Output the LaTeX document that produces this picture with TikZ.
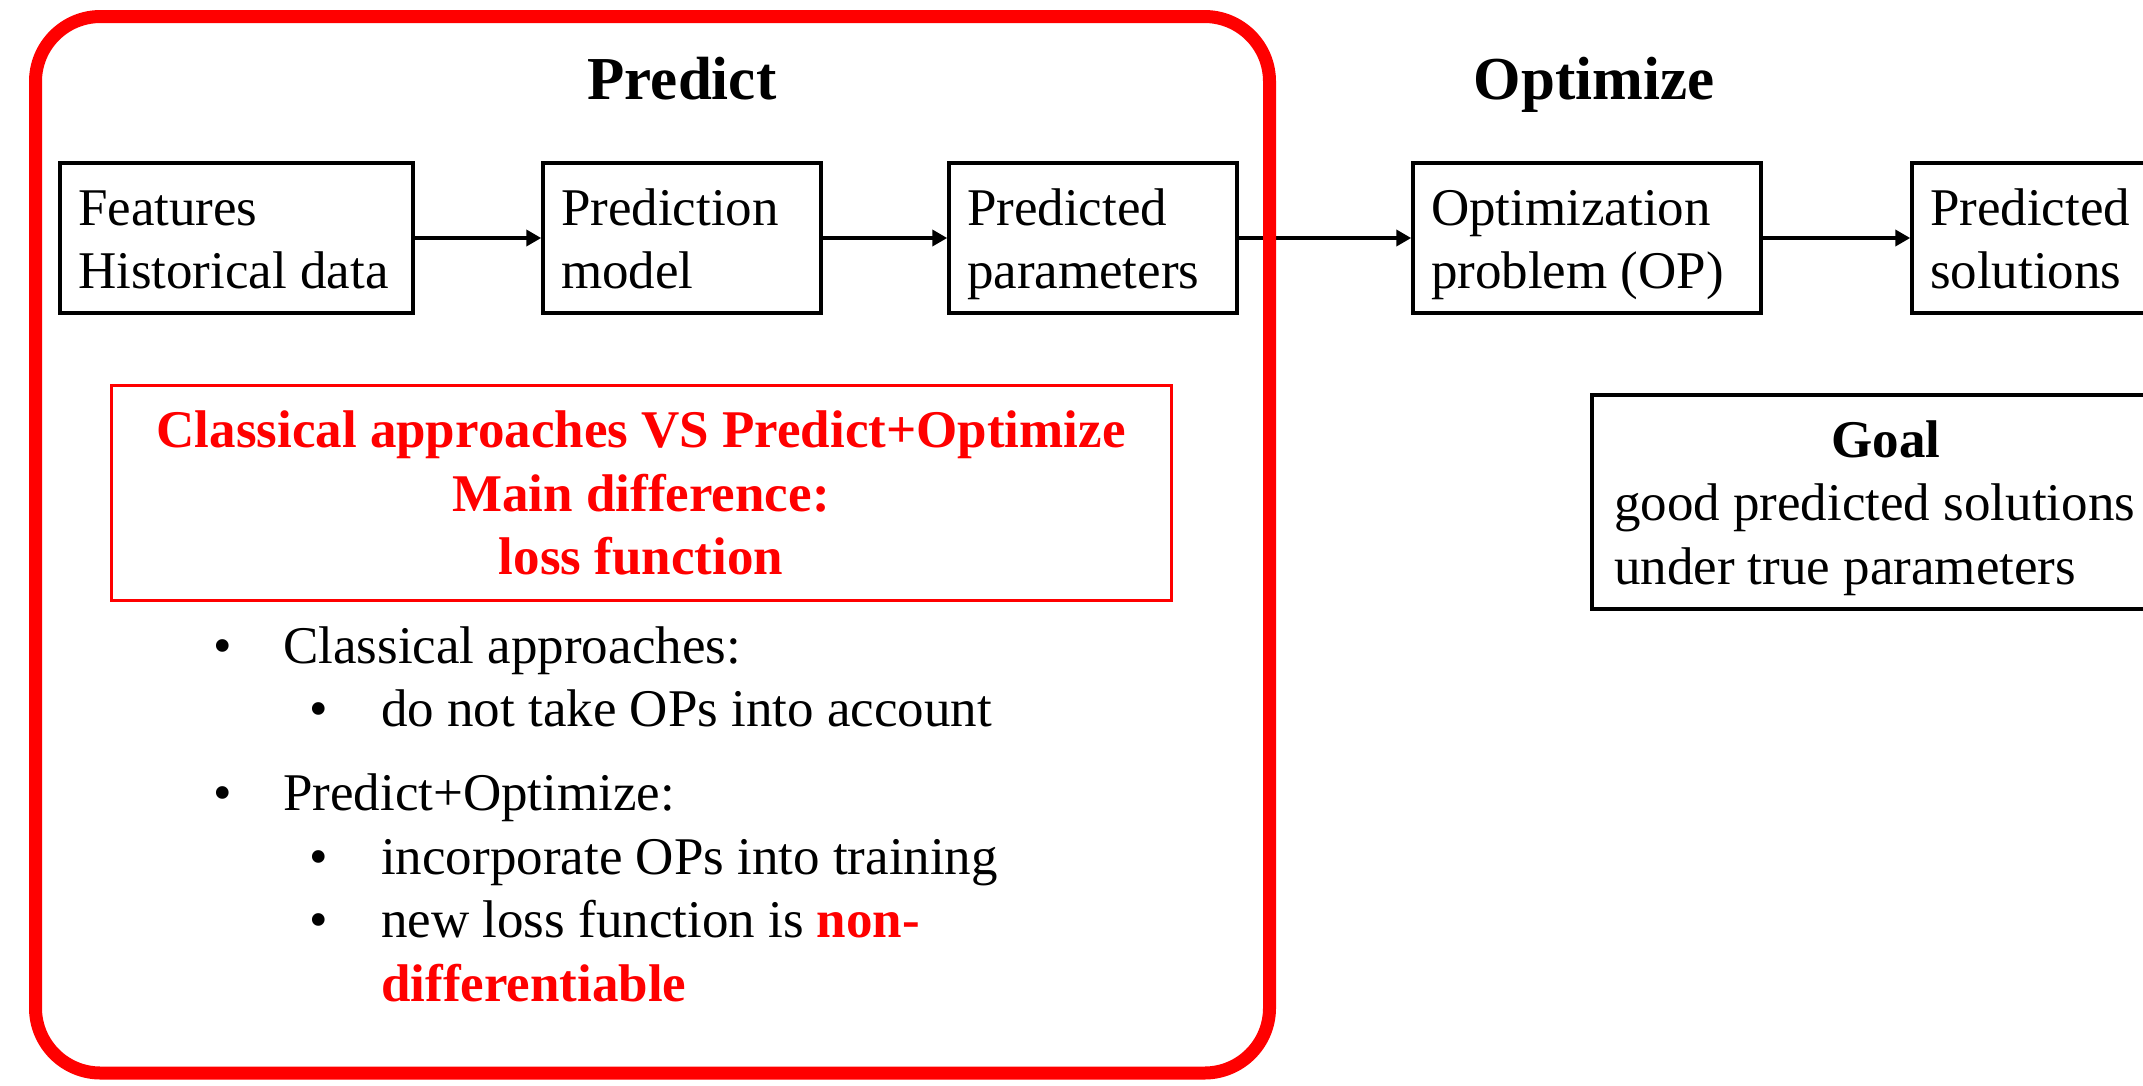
\documentclass[tikz,border=0pt]{standalone}
\usepackage{fontspec}
\setmainfont{Liberation Serif}
\usetikzlibrary{arrows.meta}
\definecolor{pred}{RGB}{255,0,0}
\newcommand{\ms}{\rule[-13pt]{0pt}{63.6pt}}
\newcommand{\nsp}{\spaceskip=0pt\xspaceskip=0pt\relax}
\begin{document}
\begin{tikzpicture}[x=1pt,y=-1pt,
  every node/.style={font=\fontsize{53}{63.6}\selectfont},
  box/.style={draw, line width=3.5pt, inner xsep=18pt, inner ysep=0pt, align=left, minimum height=150pt},
  titlestyle/.style={font=\fontsize{61}{73}\selectfont\bfseries, inner sep=0pt},
  arr/.style={line width=4pt, -{Triangle[length=15pt,width=16pt]}},
  frame/.style={draw=pred, line width=13pt, rounded corners=65pt, inner sep=0pt}
]
\useasboundingbox (0,0) rectangle (2143,1085);
\fill[white] (0,0) rectangle (2143,1085);
\clip (0,0) rectangle (2143,1085);

% titles
\node[titlestyle, anchor=base] (tpred) at (682,99) {Predict};
\node[titlestyle, anchor=base] (topt) at (1594,99) {Optimize};

% pipeline boxes
\node[box, text width=317pt, minimum width=353pt] (feat) at (236.5,238) {\nsp Features\ms\\Historical data\ms};
\node[box, text width=242pt, minimum width=278pt] (model) at (682,238) {\nsp Prediction\ms\\model\ms};
\node[box, text width=252pt, minimum width=288pt] (param) at (1093,238) {\nsp Predicted\ms\\parameters\ms};
\node[box, text width=312pt, minimum width=348pt] (opt) at (1587,238) {\nsp Optimization\ms\\problem (OP)\ms};
\node[box, text width=262pt, minimum width=298pt] (sol) at (2061,238) {\nsp Predicted\ms\\solutions\ms};

% arrows
\draw[arr] (feat.east) -- (model.west);
\draw[arr] (model.east) -- (param.west);
\draw[arr] (param.east) -- (opt.west);
\draw[arr] (opt.east) -- (sol.west);

% goal box
\node[box, text width=544pt, inner xsep=22pt, minimum width=588pt, minimum height=214pt] (goal) at (1886,502)
  {\nsp\hfill\textbf{Goal}\hfill\null\ms\\good predicted solutions\ms\\under true parameters\ms};

% red difference box
\node[draw=pred, line width=3pt, minimum width=1060pt, minimum height=215pt, inner sep=0pt, align=center,
      text=pred, font=\fontsize{53}{63.6}\selectfont\bfseries] (diff) at (641,492.5)
  {Classical approaches VS Predict+Optimize\ms\\Main difference:\ms\\loss function\ms};

% bullet list
\node[anchor=north west, inner sep=0pt, align=left] (list) at (213,612.4)
  {\makebox[70pt][l]{•}Classical approaches:\ms\\
   \hspace*{96pt}\makebox[72pt][l]{•}do not take OPs into account\ms\\[20pt]
   \makebox[70pt][l]{•}Predict+Optimize:\ms\\
   \hspace*{96pt}\makebox[72pt][l]{•}incorporate OPs into training\ms\\
   \hspace*{96pt}\makebox[72pt][l]{•}new loss function is \textcolor{pred}{\textbf{non-}}\ms\\
   \hspace*{168pt}\textcolor{pred}{\textbf{differentiable}}\ms};

% outer red frame
\node[frame, minimum width=1234pt, minimum height=1056.5pt] (predframe) at (652.5,544.75) {};
\end{tikzpicture}
\end{document}
